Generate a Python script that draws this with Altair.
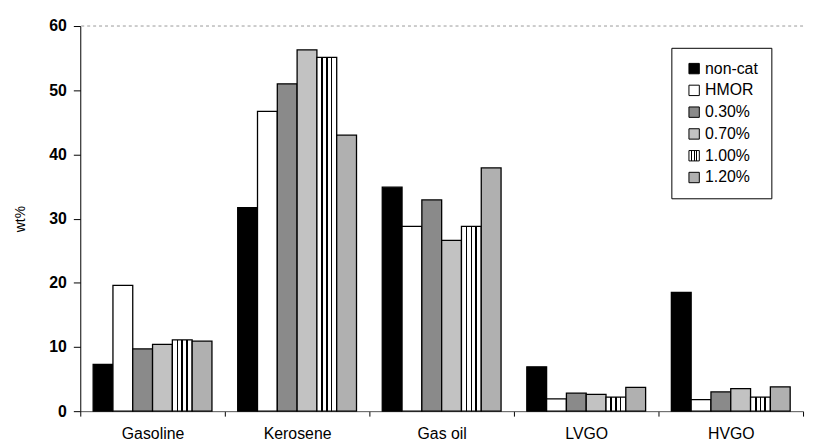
import altair as alt
import pandas as pd

categories = ["Gasoline", "Kerosene", "Gas oil", "LVGO", "HVGO"]
series = ["non-cat", "HMOR", "0.30%", "0.70%", "1.00%", "1.20%"]
non_cat = [7.3, 31.7, 34.9, 6.9, 18.5]
hmor = [19.6, 46.7, 28.8, 1.9, 1.8]
c030 = [9.7, 51.0, 32.9, 2.8, 3.0]
c070 = [10.4, 56.3, 26.6, 2.6, 3.5]
c100 = [11.1, 55.1, 28.8, 2.2, 2.2]
c120 = [10.9, 43.0, 37.9, 3.7, 3.8]
y_ticks = [0, 10, 20, 30, 40, 50, 60]

values = [non_cat, hmor, c030, c070, c100, c120]
rows = []
for s, vals in zip(series, values):
    for c, v in zip(categories, vals):
        rows.append({"category": c, "series": s, "value": v})
df = pd.DataFrame(rows)

stripes = (
    "{gradient: 'linear', x1: 0, y1: 0, x2: 1, y2: 0, stops: ["
    "{offset: 0, color: 'white'}, {offset: 0.22, color: 'white'},"
    "{offset: 0.22, color: 'black'}, {offset: 0.3, color: 'black'},"
    "{offset: 0.3, color: 'white'}, {offset: 0.46, color: 'white'},"
    "{offset: 0.46, color: 'black'}, {offset: 0.54, color: 'black'},"
    "{offset: 0.54, color: 'white'}, {offset: 0.7, color: 'white'},"
    "{offset: 0.7, color: 'black'}, {offset: 0.78, color: 'black'},"
    "{offset: 0.78, color: 'white'}, {offset: 1, color: 'white'}]}"
)
fills = ["#000000", "#ffffff", "#8a8a8a", "#c2c2c2", {"expr": stripes}, "#b0b0b0"]

FONT = "Liberation Sans"

bars = alt.Chart(df).mark_bar(stroke="black", strokeWidth=1.3).encode(
    x=alt.X(
        "category:N",
        sort=categories,
        scale=alt.Scale(paddingInner=0, paddingOuter=0),
        axis=alt.Axis(
            title=None,
            labelAngle=0,
            labelFont=FONT,
            labelFontSize=16,
            labelColor="black",
            labelPadding=10,
            tickBand="extent",
            tickSize=5,
            tickColor="black",
            domainColor="#555555",
        ),
    ),
    xOffset=alt.XOffset(
        "series:N",
        sort=series,
        scale=alt.Scale(paddingInner=0, paddingOuter=0.65),
    ),
    y=alt.Y(
        "value:Q",
        scale=alt.Scale(domain=[0, 60], nice=False),
        axis=alt.Axis(
            title="wt%",
            values=y_ticks,
            grid=False,
            labelFont=FONT,
            labelFontSize=16,
            labelFontWeight="bold",
            labelColor="black",
            labelPadding=7,
            tickSize=7,
            tickColor="black",
            domainColor="black",
            titleFont=FONT,
            titleFontSize=14,
            titleFontWeight="normal",
            titleColor="black",
            titlePadding=22,
        ),
    ),
    fill=alt.Fill(
        "series:N",
        sort=series,
        scale=alt.Scale(domain=series, range=fills),
        legend=alt.Legend(
            title=None,
            orient="none",
            legendX=597,
            legendY=22,
            strokeColor="black",
            fillColor="white",
            padding=13,
            symbolType="square",
            symbolSize=110,
            symbolStrokeColor="black",
            symbolStrokeWidth=1,
            symbolOffset=2,
            labelFont=FONT,
            labelFontSize=16,
            labelColor="black",
            labelOffset=3,
            rowPadding=6,
        ),
    ),
)

top_line = alt.Chart(pd.DataFrame({"y": [y_ticks[-1]]})).mark_rule(
    color="#999999", strokeDash=[3, 3], strokeWidth=1
).encode(y="y:Q")

chart = (
    alt.layer(top_line, bars)
    .properties(
        width=730,
        height=389,
        autosize=alt.AutoSizeParams(type="none"),
        padding={"left": 73, "top": 16, "right": 4, "bottom": 35},
        background="white",
    )
    .configure_view(stroke=None)
)

chart.save("out.html", embed_options={"renderer": "svg", "actions": False})
